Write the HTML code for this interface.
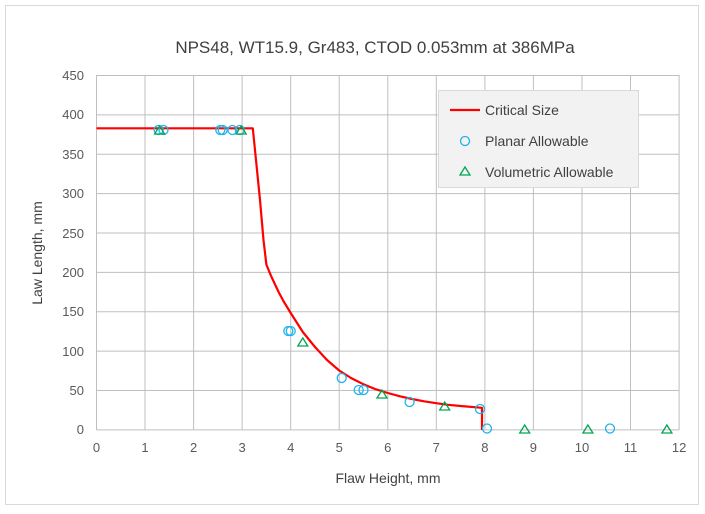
<!DOCTYPE html>
<html><head><style>body{margin:0;background:#fff}svg{display:block;font-family:"Liberation Sans",sans-serif}</style></head>
<body>
<svg width="705" height="514" viewBox="0 0 705 514" xmlns="http://www.w3.org/2000/svg">
<rect x="0" y="0" width="705" height="514" fill="#fff"/>
<rect x="5.5" y="5.5" width="693" height="499" fill="#fff" stroke="#d9d9d9"/>
<text x="375" y="53" font-size="17" text-anchor="middle" fill="#404040">NPS48, WT15.9, Gr483, CTOD 0.053mm at 386MPa</text>
<g stroke="#bfbfbf" stroke-width="1">
<line x1="96.5" y1="75" x2="96.5" y2="430"/><line x1="145" y1="75" x2="145" y2="430"/><line x1="193.6" y1="75" x2="193.6" y2="430"/><line x1="242.1" y1="75" x2="242.1" y2="430"/><line x1="290.7" y1="75" x2="290.7" y2="430"/><line x1="339.2" y1="75" x2="339.2" y2="430"/><line x1="387.8" y1="75" x2="387.8" y2="430"/><line x1="436.3" y1="75" x2="436.3" y2="430"/><line x1="484.9" y1="75" x2="484.9" y2="430"/><line x1="533.4" y1="75" x2="533.4" y2="430"/><line x1="582" y1="75" x2="582" y2="430"/><line x1="630.5" y1="75" x2="630.5" y2="430"/><line x1="679.1" y1="75" x2="679.1" y2="430"/>
<line x1="96.5" y1="75.5" x2="679" y2="75.5"/><line x1="96.5" y1="114.9" x2="679" y2="114.9"/><line x1="96.5" y1="154.3" x2="679" y2="154.3"/><line x1="96.5" y1="193.6" x2="679" y2="193.6"/><line x1="96.5" y1="233" x2="679" y2="233"/><line x1="96.5" y1="272.4" x2="679" y2="272.4"/><line x1="96.5" y1="311.8" x2="679" y2="311.8"/><line x1="96.5" y1="351.1" x2="679" y2="351.1"/><line x1="96.5" y1="390.5" x2="679" y2="390.5"/><line x1="96.5" y1="429.9" x2="679" y2="429.9"/>
</g>
<g font-size="13" fill="#595959" text-anchor="end">
<text x="84" y="80">450</text><text x="84" y="119">400</text><text x="84" y="159">350</text><text x="84" y="198">300</text><text x="84" y="238">250</text><text x="84" y="277">200</text><text x="84" y="316">150</text><text x="84" y="356">100</text><text x="84" y="395">50</text><text x="84" y="434">0</text>
</g>
<g font-size="13" fill="#595959" text-anchor="middle">
<text x="96.5" y="452">0</text><text x="145" y="452">1</text><text x="193.6" y="452">2</text><text x="242.1" y="452">3</text><text x="290.7" y="452">4</text><text x="339.2" y="452">5</text><text x="387.8" y="452">6</text><text x="436.3" y="452">7</text><text x="484.9" y="452">8</text><text x="533.4" y="452">9</text><text x="582" y="452">10</text><text x="630.5" y="452">11</text><text x="679.1" y="452">12</text>
</g>
<text x="388" y="483" font-size="14" text-anchor="middle" fill="#404040">Flaw Height, mm</text>
<text x="42" y="253" font-size="14" text-anchor="middle" fill="#404040" transform="rotate(-90 42 253)">Law Length, mm</text>
<path d="M96.5,128.3 L252.8,128.3 L256.5,165 L260,200 L263.5,240 L266.4,264.7 L271.3,276.5 L278.6,292 L283.4,301 L290.7,313 L302.8,332 L315,347 L327,360 L339.2,370.5 L351,378 L363.5,384.3 L375,389 L387.8,393 L400,396.3 L412.1,399 L424,401.3 L436.3,403.2 L448,404.8 L460.6,406 L482,407.8 L482,430" fill="none" stroke="#ff0000" stroke-width="2.2" stroke-linejoin="round"/>
<g fill="none" stroke="#1cb4ea" stroke-width="1.3">
<circle cx="158.6" cy="130" r="4.5"/><circle cx="163.5" cy="130" r="4.5"/><circle cx="220.3" cy="130" r="4.5"/><circle cx="222.7" cy="130" r="4.5"/><circle cx="232.4" cy="130" r="4.5"/><circle cx="239.7" cy="130" r="4.5"/>
<circle cx="288.3" cy="331" r="4.5"/><circle cx="290.7" cy="331" r="4.5"/><circle cx="341.7" cy="378" r="4.5"/><circle cx="358.7" cy="390" r="4.5"/><circle cx="363.5" cy="390" r="4.5"/><circle cx="409.6" cy="402" r="4.5"/><circle cx="480" cy="409" r="4.5"/><circle cx="487" cy="428.5" r="4.5"/><circle cx="610" cy="428.5" r="4.5"/>
</g>
<g fill="none" stroke="#00a651" stroke-width="1.3">
<path d="M159.6,126 l5,8 h-10 z"/><path d="M241.2,126 l5,8 h-10 z"/><path d="M302.8,338 l5,8 h-10 z"/><path d="M382,390 l5,8 h-10 z"/><path d="M444.7,402 l5,8 h-10 z"/><path d="M524.7,425 l5,8 h-10 z"/><path d="M587.9,425 l5,8 h-10 z"/><path d="M666.9,425 l5,8 h-10 z"/>
</g>
<rect x="438.5" y="90.5" width="200" height="97" fill="#f2f2f2" stroke="#d9d9d9"/>
<line x1="450" y1="110" x2="480" y2="110" stroke="#ff0000" stroke-width="2.2"/>
<circle cx="465" cy="141" r="4.5" fill="none" stroke="#1cb4ea" stroke-width="1.3"/>
<path d="M465,167 l5,8 h-10 z" fill="none" stroke="#00a651" stroke-width="1.3"/>
<g font-size="14" fill="#404040">
<text x="485" y="115">Critical Size</text><text x="485" y="146">Planar Allowable</text><text x="485" y="177">Volumetric Allowable</text>
</g>
</svg>
</body></html>
